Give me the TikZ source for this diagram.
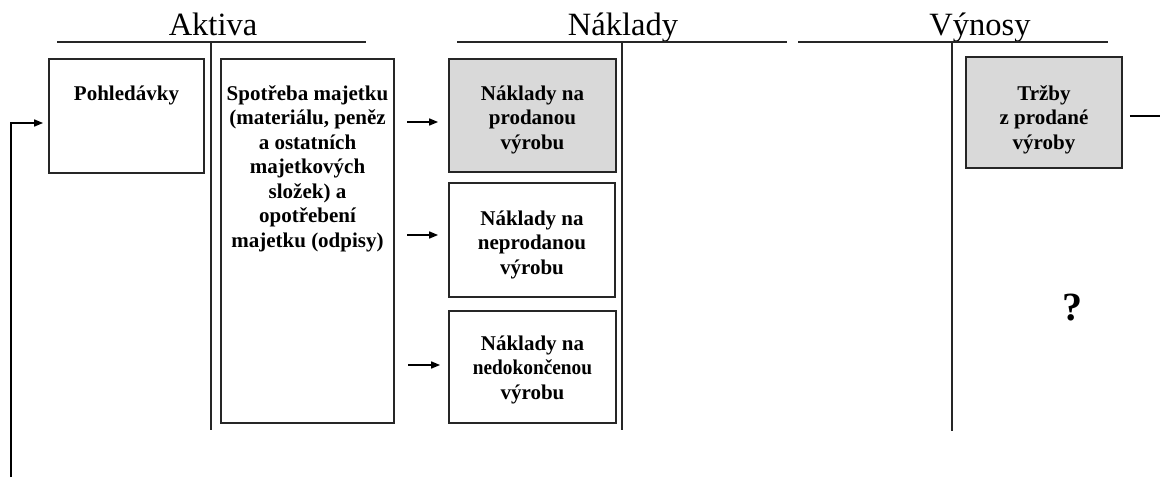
\documentclass[tikz,border=0pt]{standalone}
\usepackage{fontspec}
\setmainfont{Liberation Serif}
\usetikzlibrary{arrows.meta,calc}
\newcommand{\boxfont}{\fontsize{21}{24.5}\selectfont\bfseries}
\newcommand{\mytopbox}[4]{\parbox[c][#1][t]{#2}{\centering\vspace*{#3}\strut #4}}
\begin{document}
\begin{tikzpicture}[x=1pt,y=-1pt,
  acc/.style={line width=2pt, draw=black!85},
  box/.style={draw=black!85, line width=1.8pt, inner sep=0pt, align=center, font=\boxfont},
  fillbox/.style={box, fill=black!15},
  arr/.style={line width=1.6pt, draw=black, -{Triangle[length=9pt,width=7pt]}},
  plain/.style={line width=1.6pt, draw=black},
  title/.style={font=\fontsize{32.5}{38}\selectfont, anchor=base, inner sep=0pt}]
\useasboundingbox (0,0) rectangle (1160,477);

% T-accounts
\node[title] (tA) at (213,35) {Aktiva};
\node[title] (tN) at (623,35) {Náklady};
\node[title] (tV) at (980,35) {Výnosy};
\draw[acc] (57,42) -- (366,42);
\draw[acc] (211,42) -- (211,430);
\draw[acc] (457,42) -- (787,42);
\draw[acc] (622,42) -- (622,430);
\draw[acc] (798,42) -- (1108,42);
\draw[acc] (952,42) -- (952,431);

% boxes
\node[box, minimum width=155pt, minimum height=114pt] (pohl) at (126.5,116)
  {\mytopbox{114pt}{150pt}{24pt}{Pohledávky}};
\node[box, minimum width=173pt, minimum height=364pt] (spot) at (307.5,241)
  {\mytopbox{364pt}{170pt}{24pt}{Spotřeba majetku\\ (materiálu, peněz\\ a ostatních\\ majetkových\\ složek) a\\ opotřebení\\ majetku (odpisy)}};
\node[fillbox, minimum width=167pt, minimum height=113pt] (pr) at (532.5,115.5)
  {\mytopbox{113pt}{160pt}{24pt}{Náklady na\\prodanou\\výrobu}};
\node[box, minimum width=166pt, minimum height=114pt] (pn) at (532,240)
  {\mytopbox{114pt}{160pt}{25pt}{Náklady na\\neprodanou\\výrobu}};
\node[box, minimum width=167pt, minimum height=112pt] (pk) at (532.5,367)
  {\mytopbox{112pt}{160pt}{22pt}{Náklady na\\\scalebox{0.92}[1]{nedokončenou}\\výrobu}};
\node[fillbox, minimum width=156pt, minimum height=111pt] (trz) at (1044,112.5)
  {\mytopbox{111pt}{150pt}{26pt}{Tržby\\z prodané\\výroby}};
\node[font=\fontsize{40}{46}\selectfont\bfseries, inner sep=0pt] (q) at (1072,308) {?};

% connectors
\coordinate (s1) at (407,122);
\coordinate (s2) at (407,235);
\coordinate (s3) at (408,365);
\draw[arr, shorten >=10pt] (s1) -- (s1 -| pr.west);
\draw[arr, shorten >=10pt] (s2) -- (s2 -| pn.west);
\draw[arr, shorten >=8pt] (s3) -- (s3 -| pk.west);
\coordinate (inL) at (11,477);
\draw[arr, shorten >=5pt] (inL) |- ($(pohl.west)+(0,7)$);
\coordinate (outR) at (1160,116);
\draw[plain, shorten <=7pt] ($(trz.east)+(0,3.5)$) -- (outR);
\end{tikzpicture}
\end{document}
